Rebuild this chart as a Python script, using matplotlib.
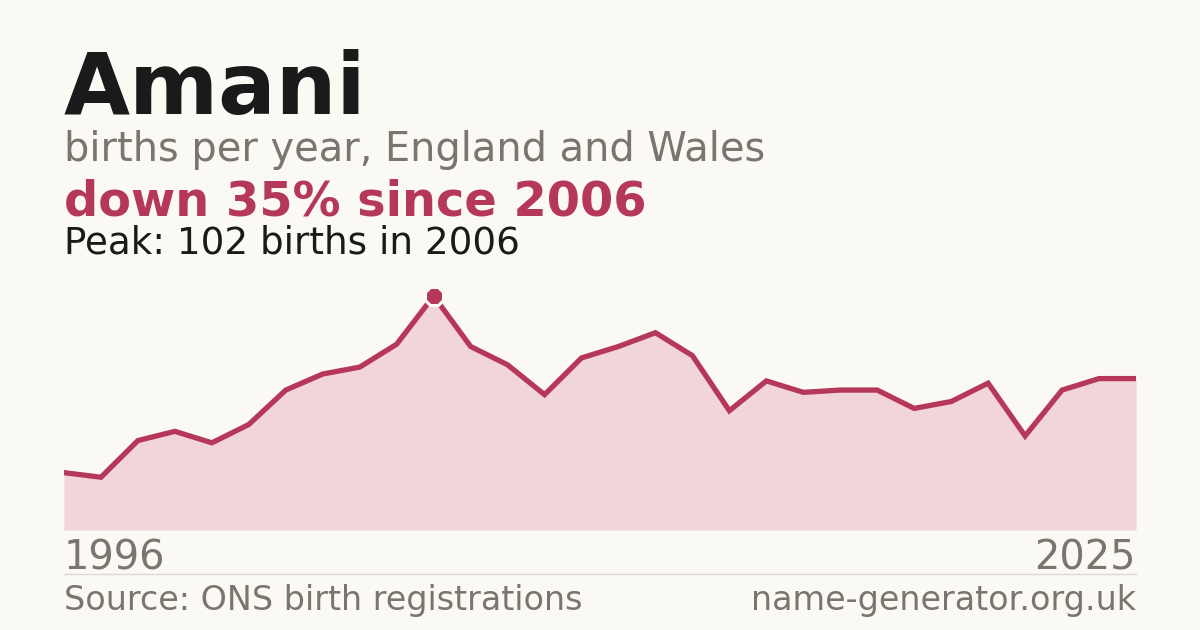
import matplotlib.pyplot as plt

# data
years = list(range(1996, 2026))
births = [25, 23, 39, 43, 38, 46, 61, 68, 71, 81,
          102, 80, 72, 59, 75, 80, 86, 76, 52, 65,
          60, 61, 61, 53, 56, 64, 41, 61, 66, 66]
name = "Amani"
subtitle = "births per year, England and Wales"
source = "Source: ONS birth registrations"
site = "name-generator.org.uk"

bg = "#faf9f4"
red = "#b5385a"
fill = "#f2d5da"
grey = "#7a756e"
dark = "#1a1a1a"

W, H = 1200, 630
fig = plt.figure(figsize=(12, 6.3), dpi=100, facecolor=bg)

peak = max(births)
peak_year = years[births.index(peak)]
last = births[-1]
change = round((peak - last) / peak * 100)

# chart area: x 64..1136 px, baseline at y=530, peak at y=296
ax_top = 280
ax = fig.add_axes([64 / W, (H - 530) / H, (1136 - 64) / W, (530 - ax_top) / H])
ax.set_facecolor(bg)
ax.fill_between(years, births, 0, color=fill, lw=0)
ax.plot(years, births, color=red, lw=3.8, solid_joinstyle="miter")
ax.plot([peak_year], [peak], "8", ms=13.7, color=red, mec=bg, mew=2.2, clip_on=False, zorder=5)
ax.set_xlim(years[0], years[-1])
ax.set_ylim(0, peak * (530 - ax_top) / (530 - 296))
ax.axis("off")

def px(x, y):
    return x / W, 1 - y / H

fig.text(*px(64, 114), name, fontsize=61.5, fontweight="bold", color=dark, va="baseline")
fig.text(*px(64, 161), subtitle, fontsize=28.7, color=grey, va="baseline")
fig.text(*px(64, 215), f"down {change}% since {peak_year}", fontsize=34.5,
         fontweight="bold", color=red, va="baseline")
fig.text(*px(64, 254), f"Peak: {peak} births in {peak_year}", fontsize=26.8,
         color=dark, va="baseline")

fig.text(*px(64, 570), str(years[0]), fontsize=28.7, color=grey, va="baseline")
fig.text(*px(1136, 570), str(years[-1]), fontsize=28.7, color=grey, va="baseline", ha="right")

fig.add_artist(plt.Line2D([64 / W, 1136 / W], [1 - 574 / H, 1 - 574 / H], color="#dddad3", lw=1))

fig.text(*px(64, 610), source, fontsize=24, color=grey, va="baseline")
fig.text(*px(1136, 610), site, fontsize=24, color=grey, va="baseline", ha="right")

fig.savefig("out.png", dpi=100, facecolor=bg)
